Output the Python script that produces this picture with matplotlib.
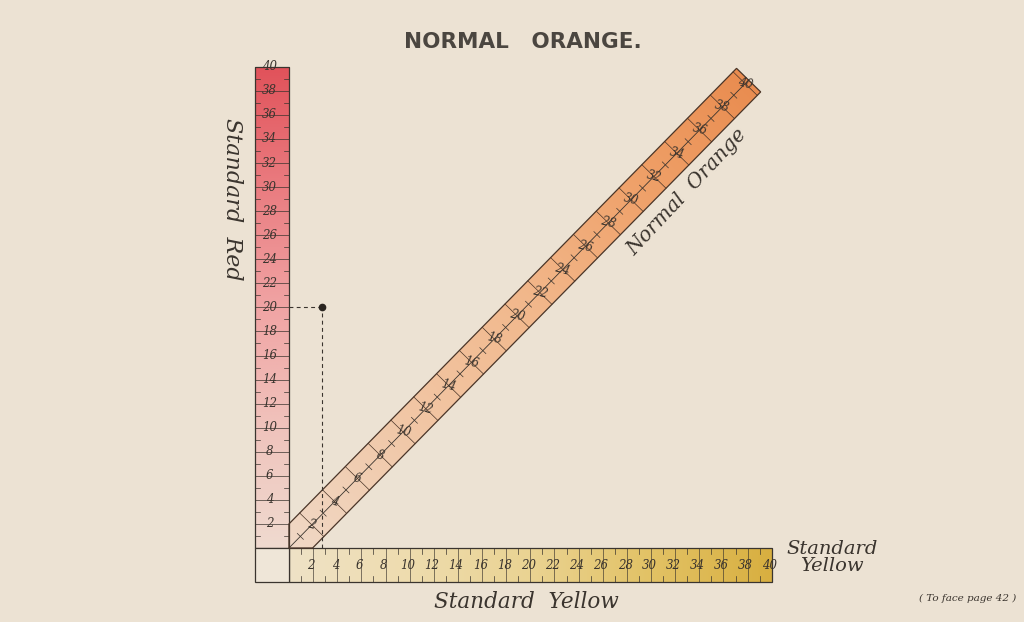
import numpy as np
import matplotlib.pyplot as plt
from matplotlib.colors import LinearSegmentedColormap
from matplotlib.patches import Polygon, Rectangle

# scale values (units of colour)
scale_max = 40
red_labels = list(range(2, 41, 2))
yellow_labels = list(range(2, 41, 2))
orange_labels = list(range(2, 41, 2))
minor_ticks = list(range(1, 40, 2))
sample_red = 20
sample_yellow = 2.75

paper = '#ECE2D3'
ink = '#3a342e'
serif = ['DejaVu Serif']

fig = plt.figure(figsize=(10.24, 6.22), dpi=100)
fig.patch.set_facecolor(paper)
ax = fig.add_axes([0, 0, 1, 1])
ax.set_facecolor(paper)
ax.set_xlim(-23.94, 60.9)
ax.set_ylim(-6.15, 45.55)
ax.axis('off')

bar_w = 2.85  # thickness of the red / yellow scales

red_cmap = LinearSegmentedColormap.from_list(
    'red', ['#EFDACF', '#F0C3BC', '#F0A4A4', '#EA7C80', '#E1525A'])
yellow_cmap = LinearSegmentedColormap.from_list(
    'yel', ['#EFE2C6', '#EEDCAE', '#EAD392', '#E2C265', '#D8AF40'])
orange_cmap = LinearSegmentedColormap.from_list(
    'ora', ['#F0D8C5', '#F1C7A6', '#F2B88C', '#EFA068', '#E8894C'])


def fill_gradient(patch, img, cmap, extent):
    ax.add_patch(patch)
    im = ax.imshow(img, cmap=cmap, extent=extent, origin='lower',
                   aspect='auto', zorder=1, interpolation='bilinear')
    im.set_clip_path(patch)


g = np.linspace(0, 1, 256)
num_kw = dict(fontsize=8.5, style='italic', family=serif, color=ink, zorder=5)

# ---- red scale (vertical)
red_rect = Rectangle((-bar_w, 0), bar_w, scale_max, facecolor='none',
                     edgecolor='none')
fill_gradient(red_rect, g[:, None], red_cmap, (-bar_w, 0, 0, scale_max))
ax.add_patch(Rectangle((-bar_w, 0), bar_w, scale_max, fill=False,
                       edgecolor=ink, lw=0.9, zorder=4))
for v in red_labels:
    ax.plot([-bar_w, 0], [v, v], color=ink, lw=0.5, zorder=3)
    ax.text(-bar_w / 2 - 0.2, v, str(v), ha='center', va='center', **num_kw)
for v in minor_ticks:
    ax.plot([-bar_w, -bar_w + 0.45], [v, v], color=ink, lw=0.5, zorder=3)
    ax.plot([-0.45, 0], [v, v], color=ink, lw=0.5, zorder=3)

# ---- yellow scale (horizontal)
yel_rect = Rectangle((0, -bar_w), scale_max, bar_w, facecolor='none',
                     edgecolor='none')
fill_gradient(yel_rect, g[None, :], yellow_cmap, (0, scale_max, -bar_w, 0))
ax.add_patch(Rectangle((0, -bar_w), scale_max, bar_w, fill=False,
                       edgecolor=ink, lw=0.9, zorder=4))
for v in yellow_labels:
    ax.plot([v, v], [-bar_w, 0], color=ink, lw=0.45, zorder=3)
    ax.text(v - 0.15, -bar_w / 2 - 0.05, str(v), ha='center', va='center',
            **num_kw)
for v in minor_ticks:
    ax.plot([v, v], [-0.5, 0], color=ink, lw=0.5, zorder=3)
    ax.plot([v, v], [-bar_w, -bar_w + 0.5], color=ink, lw=0.5, zorder=3)

# corner square
ax.add_patch(Rectangle((-bar_w, -bar_w), bar_w, bar_w, facecolor='#EFE6D8',
                       edgecolor=ink, lw=0.9, zorder=4))

# ---- orange scale (diagonal)
u = np.array([0.945, 0.965])          # one orange unit along the bar
u_hat = u / np.linalg.norm(u)
n_hat = np.array([-u_hat[1], u_hat[0]])
half = 1.4
s_end = 40.3 * np.linalg.norm(u)
p_ul0 = np.array([0, half * n_hat[1] - half * n_hat[0] * u_hat[1] / u_hat[0]])
p_lr0 = np.array([-half * n_hat[0] + half * n_hat[1] * u_hat[0] / u_hat[1], 0])
p_ul1 = s_end * u_hat + half * n_hat
p_lr1 = s_end * u_hat - half * n_hat
corners = [(0, 0), p_ul0, p_ul1, p_lr1, p_lr0]
orange_poly = Polygon(corners, closed=True, facecolor='none', edgecolor='none')
X, Y = np.meshgrid(np.linspace(0, 40, 300), np.linspace(0, 40, 300))
fill_gradient(orange_poly, (X + Y) / 80.0, orange_cmap, (0, 40, 0, 40))
ax.add_patch(Polygon(corners, closed=True, fill=False, edgecolor='#4a3528',
                     lw=0.9, zorder=4))
ax.plot([0, s_end * u_hat[0]], [0, s_end * u_hat[1]], color=ink, lw=0.6,
        zorder=3)
for v in orange_labels:
    c = v * u
    a, b = c + half * n_hat, c - half * n_hat
    ax.plot([a[0], b[0]], [a[1], b[1]], color='#4a3528', lw=0.5, zorder=3)
    ax.text(c[0], c[1], str(v), ha='center', va='center', rotation=-15,
            **num_kw)
for v in minor_ticks:
    c = v * u
    a, b = c + 0.35 * n_hat, c - 0.35 * n_hat
    ax.plot([a[0], b[0]], [a[1], b[1]], color=ink, lw=0.5, zorder=3)

# ---- sample reading
ax.plot([0, sample_yellow], [sample_red, sample_red], ls=(0, (3.5, 3)),
        color=ink, lw=0.8, zorder=5)
ax.plot([sample_yellow, sample_yellow], [0, sample_red], ls=(0, (3.5, 3)),
        color=ink, lw=0.8, zorder=5)
ax.plot([sample_yellow], [sample_red], 'o', color='#2a2520', ms=4.5, zorder=6)

# ---- text
ax.text(19.4, 42.06, 'NORMAL   ORANGE.', ha='center', va='center',
        fontsize=15.5, fontweight='bold', family='DejaVu Sans', color='#4b4640')
lab_kw = dict(style='italic', family=serif, color=ink)
ax.text(-4.75, 29.0, 'Standard  Red', ha='center', va='center', rotation=-90,
        fontsize=16, **lab_kw)
ax.text(33.0, 29.6, 'Normal  Orange', ha='center', va='center', rotation=47,
        fontsize=14.5, **lab_kw)
ax.text(45.0, -0.8, 'Standard\nYellow', ha='center', va='center',
        fontsize=14, linespacing=0.95, **lab_kw)
ax.text(19.7, -4.5, 'Standard  Yellow', ha='center', va='center',
        fontsize=15.5, **lab_kw)
ax.text(56.25, -4.15, '( To face page 42 )', ha='center', va='center',
        fontsize=7.5, **lab_kw)

fig.savefig('out.png', dpi=100, facecolor=paper)
